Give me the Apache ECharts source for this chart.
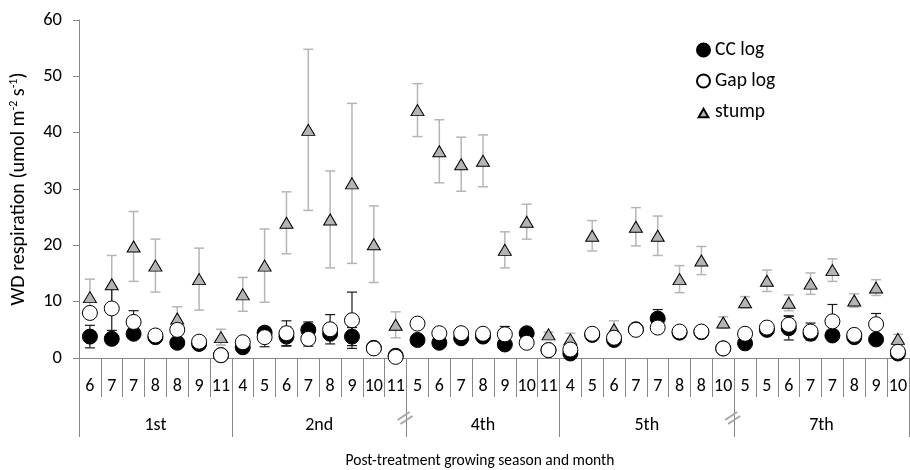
<!DOCTYPE html>
<html>
<head>
<meta charset="utf-8">
<script src="https://cdn.jsdelivr.net/npm/echarts@6/dist/echarts.min.js"></script>
<style>
html,body{margin:0;padding:0;background:#fff;}
#chart{width:910px;height:470px;}
</style>
</head>
<body>
<div id="chart"></div>
<script>
// Categories (month within post-treatment growing season)
const months = ['6','7','7','8','8','9','11',
                '4','5','6','7','8','9','10','11',
                '5','6','7','8','9','10','11',
                '4','5','6','7','7','8','8','10',
                '5','5','6','7','7','8','9','10'];
const seasons = ['1st','2nd','4th','5th','7th'];
const seasonSizes = [7, 8, 7, 8, 8];
const yTicks = [0, 10, 20, 30, 40, 50, 60];

// Series values
const ccLog = [3.8,3.4,4.3,3.7,2.7,2.5,0.5,
               1.9,4.5,3.8,5.0,4.3,3.8,1.8,0.4,
               3.2,2.7,3.5,3.8,2.4,4.4,1.4,
               0.8,4.1,3.2,5.1,7.0,4.5,4.6,1.7,
               2.6,5.0,5.3,4.3,4.0,3.7,3.3,0.8];
const ccErr = [2.0,0,0,0,0,0,0,
               0.5,0,1.7,1.4,0,1.6,0,0,
               0,0,0,0,0,0,0,
               0,0,0,0,1.6,0,0,0,
               0,0,2.1,0,0,0,0,0];
const gapLog = [8.0,8.8,6.4,4.0,5.0,2.9,0.5,
                2.8,3.7,4.4,3.4,5.1,6.7,1.7,0.2,
                6.1,4.4,4.4,4.3,4.2,2.7,1.4,
                1.5,4.3,3.6,5.0,5.4,4.7,4.7,1.7,
                4.3,5.4,5.9,4.7,6.5,4.1,6.0,1.1];
const gapErr = [0,3.9,2.0,0,0,0,0,
                0,1.7,2.2,1.3,2.6,5.0,0,0,
                0,0,0,0,1.4,0,0,
                0,0,0,0,0,0,0,0,
                0,0,1.6,1.5,3.0,0,1.9,0];
const stump = [10.8,13.1,19.8,16.4,7.0,14.0,3.7,
               11.3,16.4,24.0,40.5,24.6,31.0,20.2,5.9,
               44.0,36.7,34.4,35.0,19.2,24.2,4.2,
               3.3,21.7,5.1,23.3,21.7,14.0,17.3,6.3,
               9.9,13.7,9.8,13.2,15.6,10.2,12.5,3.4];
const stumpErr = [3.2,5.1,6.2,4.7,2.1,5.5,1.4,
                  3.0,6.5,5.5,14.3,8.6,14.2,6.8,2.3,
                  4.7,5.6,4.8,4.6,3.2,3.1,0.4,
                  1.1,2.7,1.5,3.4,3.5,2.4,2.5,1.0,
                  1.0,1.9,1.4,1.9,2.0,1.2,1.4,0.8];

const FONT = 'Carlito, Lato, sans-serif';
const AXIS = '#878787';
const XTITLE = 'Post-treatment growing season and month';

// group boundaries and centers (in category units)
const bounds = [0];
seasonSizes.forEach(s => bounds.push(bounds[bounds.length - 1] + s));
const centers = seasonSizes.map((s, i) => bounds[i] + s / 2);

function errRender(color, lw, cap) {
  return function (params, api) {
    const x = api.value(0), m = api.value(1), e = api.value(2);
    if (!e) return null;
    const top = api.coord([x, m + e]);
    const bot = api.coord([x, Math.max(m - e, 0)]);
    const st = { stroke: color, lineWidth: lw };
    return {
      type: 'group',
      children: [
        { type: 'line', shape: { x1: top[0], y1: top[1], x2: bot[0], y2: bot[1] }, style: st },
        { type: 'line', shape: { x1: top[0] - cap, y1: top[1], x2: top[0] + cap, y2: top[1] }, style: st },
        { type: 'line', shape: { x1: bot[0] - cap, y1: bot[1], x2: bot[0] + cap, y2: bot[1] }, style: st }
      ]
    };
  };
}
const mk = (vals, errs) => vals.map((v, i) => [i, v, errs[i]]);

const titleGraphic = {
  type: 'text', x: 480, y: 461, z: 10,
  style: { text: XTITLE, fontSize: 15.5, fill: '#000', fontFamily: FONT, align: 'center', verticalAlign: 'middle' }
};

const chart = echarts.init(document.getElementById('chart'), null, { renderer: 'canvas' });
chart.setOption({
  animation: false,
  textStyle: { fontFamily: FONT },
  grid: { left: 79, top: 20, width: 834, height: 338 },
  legend: {
    orient: 'vertical', left: 691, top: 35, itemWidth: 13, itemHeight: 13, itemGap: 11,
    textStyle: { fontSize: 19.5, color: '#000', fontFamily: FONT },
    data: [
      { name: 'CC log', icon: 'circle' },
      { name: 'Gap log', icon: 'circle' },
      { name: 'stump', icon: 'path://M0,0M20,20M10,5L17.5,18L2.5,18Z' }
    ]
  },
  xAxis: [{
    type: 'category', data: months, gridIndex: 0, position: 'bottom',
    axisLine: { show: true, lineStyle: { color: AXIS, width: 1 } },
    axisTick: { show: true, interval: 0, length: 39, lineStyle: { color: AXIS } },
    axisLabel: { interval: 0, margin: 19, fontSize: 18, color: '#000', fontFamily: FONT },
    splitLine: { show: false }
  }, {
    type: 'value', min: 0, max: months.length, gridIndex: 0, position: 'bottom',
    axisLine: { show: false },
    axisTick: { show: true, customValues: bounds, length: 79, lineStyle: { color: AXIS } },
    axisLabel: {
      customValues: centers, margin: 58, fontSize: 18, color: '#000', fontFamily: FONT,
      formatter: v => { const k = centers.indexOf(v); return k >= 0 ? seasons[k] : ''; }
    },
    splitLine: { show: false }
  }],
  yAxis: {
    type: 'value', min: 0, max: 60, interval: 10,
    axisLine: { show: true, lineStyle: { color: AXIS } },
    axisTick: { show: true, length: 6, lineStyle: { color: AXIS } },
    axisLabel: { fontSize: 18.5, color: '#000', margin: 17, fontFamily: FONT,
                 customValues: yTicks },
    splitLine: { show: false },
    name: 'WD respiration (umol m{sup|-2} s{sup|-1})',
    nameLocation: 'middle', nameGap: 49, nameRotate: 90,
    nameTextStyle: {
      fontSize: 20, color: '#000', fontFamily: FONT,
      rich: { sup: { fontSize: 12, verticalAlign: 'top', padding: [0, 0, 10, 0], color: '#000', fontFamily: FONT } }
    }
  },
  series: [
    { type: 'custom', name: 'stumpErr', renderItem: errRender('#b5b5b5', 1.5, 5), data: mk(stump, stumpErr), z: 1, silent: true },
    { type: 'custom', name: 'ccErr', renderItem: errRender('#1a1a1a', 1.2, 5), data: mk(ccLog, ccErr), z: 1, silent: true },
    { type: 'custom', name: 'gapErr', renderItem: errRender('#1a1a1a', 1.2, 5), data: mk(gapLog, gapErr), z: 1, silent: true },
    { type: 'scatter', name: 'stump', symbol: 'triangle', symbolSize: [13, 11], z: 2,
      itemStyle: { color: '#b4b4b4', borderColor: '#000', borderWidth: 1, opacity: 1 },
      data: stump.map((v, i) => [i, v]) },
    { type: 'scatter', name: 'CC log', symbol: 'circle', symbolSize: 15, z: 3,
      itemStyle: { color: '#000', borderColor: '#000', borderWidth: 1, opacity: 1 },
      data: ccLog.map((v, i) => [i, v]) },
    { type: 'scatter', name: 'Gap log', symbol: 'circle', symbolSize: 15, z: 4,
      itemStyle: { color: '#fff', borderColor: '#000', borderWidth: 1, opacity: 1 },
      data: gapLog.map((v, i) => [i, v]) }
  ],
  graphic: [titleGraphic]
});

// axis break marks at season boundaries (2nd/4th and 5th/7th)
const breakAt = [bounds[2], bounds[4]];
const marks = [];
breakAt.forEach(b => {
  const px = chart.convertToPixel({ xAxisIndex: 1 }, b);
  [[-9, 0], [-6, 4]].forEach(([dx, dy]) => {
    marks.push({ type: 'line', z: 20, shape: { x1: px + dx, y1: 420 + dy, x2: px + dx + 12, y2: 420 + dy - 8 },
                 style: { stroke: '#a6a6a6', lineWidth: 2 } });
  });
});
chart.setOption({ graphic: [titleGraphic].concat(marks) }, { replaceMerge: ['graphic'] });
</script>
</body>
</html>
